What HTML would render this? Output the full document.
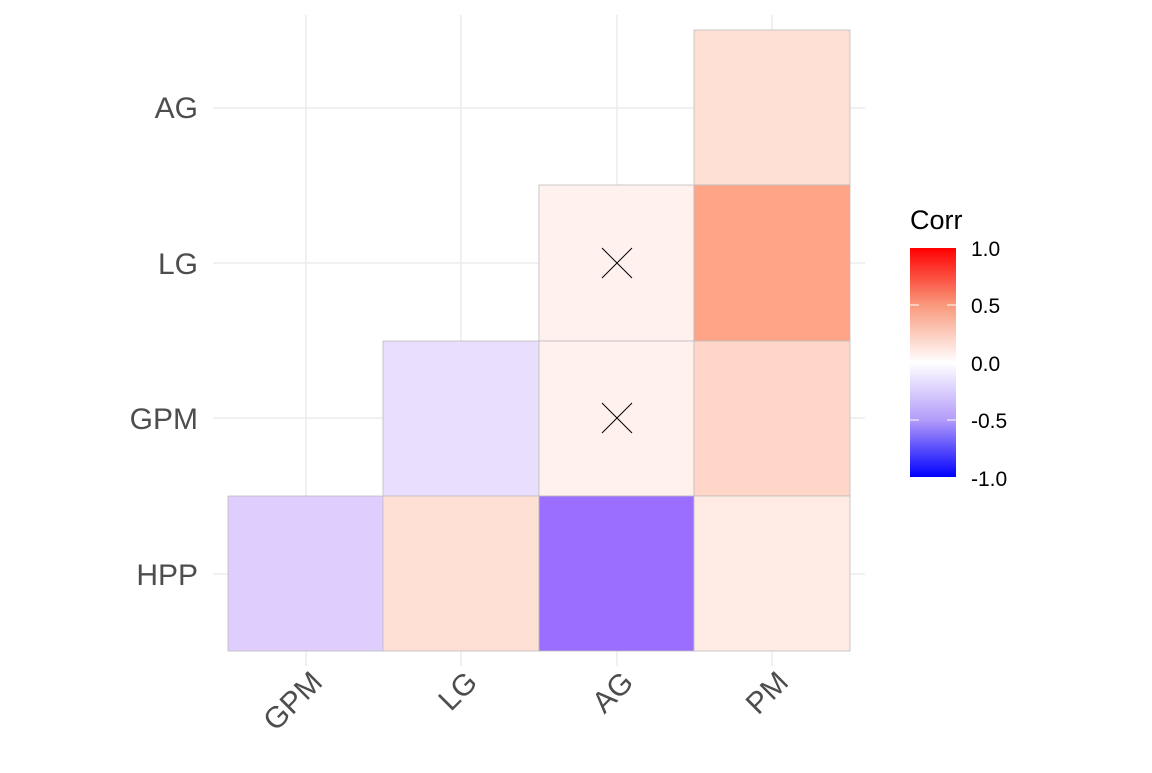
<!DOCTYPE html><html><head><style>body{margin:0;background:#fff}</style></head><body>
<svg width="1152" height="768" xmlns="http://www.w3.org/2000/svg" font-family="Liberation Sans, sans-serif">
<defs><linearGradient id="g" x1="0" y1="0" x2="0" y2="1">
<stop offset="0" stop-color="#ff0000"/><stop offset="0.25" stop-color="#f9997c"/><stop offset="0.5" stop-color="#ffffff"/><stop offset="0.75" stop-color="#b49cfa"/><stop offset="1" stop-color="#0000ff"/></linearGradient></defs>
<g stroke="#ebebeb" stroke-width="1.5">
<line x1="306" y1="15" x2="306" y2="666"/><line x1="461" y1="15" x2="461" y2="666"/><line x1="617" y1="15" x2="617" y2="666"/><line x1="772" y1="15" x2="772" y2="666"/>
<line x1="213" y1="108" x2="865" y2="108"/><line x1="213" y1="263" x2="865" y2="263"/><line x1="213" y1="418" x2="865" y2="418"/><line x1="213" y1="574" x2="865" y2="574"/>
</g>
<g stroke="#bdbdbd" stroke-width="0.8">
<rect x="694" y="30" width="156" height="155" fill="#fedfd4"/>
<rect x="539" y="185" width="155" height="156" fill="#fff2ee"/>
<rect x="694" y="185" width="156" height="156" fill="#ffa487"/>
<rect x="383" y="341" width="156" height="155" fill="#e9defe"/>
<rect x="539" y="341" width="155" height="155" fill="#fff1ec"/>
<rect x="694" y="341" width="156" height="155" fill="#ffd6c8"/>
<rect x="228" y="496" width="155" height="155" fill="#dfcdfe"/>
<rect x="383" y="496" width="156" height="155" fill="#fedfd4"/>
<rect x="539" y="496" width="155" height="155" fill="#9c6eff"/>
<rect x="694" y="496" width="156" height="155" fill="#ffebe4"/>
</g>
<g stroke="#000" stroke-width="1"><path d="M602 248 L632 278 M632 248 L602 278 M602 403 L632 433 M632 403 L602 433"/></g>
<g font-size="30" fill="#4d4d4d" text-anchor="end">
<text x="198" y="118">AG</text><text x="198" y="274">LG</text><text x="198" y="429">GPM</text><text x="198" y="585">HPP</text>
<text transform="translate(324,684) rotate(-45)">GPM</text>
<text transform="translate(479,684) rotate(-45)">LG</text>
<text transform="translate(635,684) rotate(-45)">AG</text>
<text transform="translate(790,684) rotate(-45)">PM</text>
</g>
<text x="910" y="229" font-size="27" fill="#000">Corr</text>
<rect x="910" y="248" width="46" height="229" fill="url(#g)"/>
<g stroke="#fff" stroke-width="1"><path d="M910 305h9M947 305h9M910 363h9M947 363h9M910 420h9M947 420h9"/></g>
<g font-size="21" fill="#000"><text x="971" y="256">1.0</text><text x="971" y="313">0.5</text><text x="971" y="371">0.0</text><text x="971" y="428">-0.5</text><text x="971" y="486">-1.0</text></g>
</svg></body></html>
